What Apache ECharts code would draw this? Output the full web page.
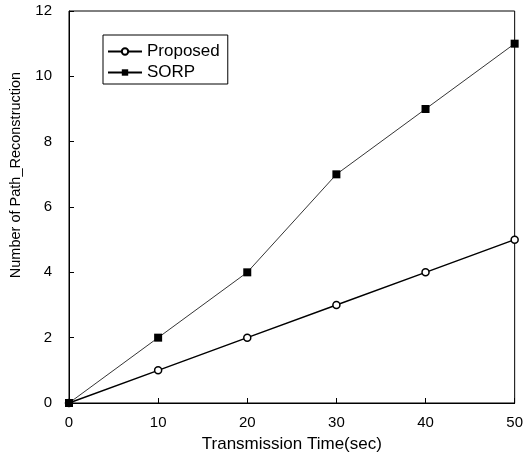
<!DOCTYPE html>
<html>
<head>
<meta charset="utf-8">
<script src="https://cdn.jsdelivr.net/npm/echarts@6/dist/echarts.min.js"></script>
<style>
  html, body { margin: 0; padding: 0; background: #fff; }
  #chart { width: 526px; height: 467px; }
</style>
</head>
<body>
<div id="chart"></div>
<script>
// data
const times = [0, 10, 20, 30, 40, 50];
const proposed = [0, 1, 2, 3, 4, 5];
const sorp = [0, 2, 4, 7, 9, 11];

const pairs = (ys) => times.map((t, i) => [t, ys[i]]);

const chart = echarts.init(document.getElementById('chart'));
const font = 'Liberation Sans, Arial, sans-serif';

chart.setOption({
    animation: false,
    backgroundColor: '#fff',
    grid: {
        left: 67, right: 7, top: 11, bottom: 64,
        show: true, borderColor: '#000', borderWidth: 1
    },
    legend: {
        orient: 'vertical',
        left: 103, top: 35,
        itemWidth: 34, itemHeight: 8, itemGap: 4,
        padding: [8, 8, 3, 4],
        borderColor: '#000', borderWidth: 1,
        textStyle: { fontFamily: font, fontSize: 17, color: '#000' },
        data: ['Proposed', 'SORP']
    },
    xAxis: {
        type: 'value',
        min: 0, max: 50, interval: 10,
        name: 'Transmission Time(sec)',
        nameLocation: 'middle',
        nameGap: 33,
        nameTextStyle: { fontFamily: font, fontSize: 17, color: '#000' },
        axisLine: { lineStyle: { color: '#000' } },
        axisTick: { inside: true, length: 5, lineStyle: { color: '#000' } },
        axisLabel: { fontFamily: font, fontSize: 15, color: '#000', margin: 12 },
        splitLine: { show: false }
    },
    yAxis: {
        type: 'value',
        min: 0, max: 12, interval: 2,
        name: 'Number of Path_Reconstruction',
        nameLocation: 'middle',
        nameGap: 46,
        nameTextStyle: { fontFamily: font, fontSize: 14.5, color: '#000', padding: [0, 0, 0, 64] },
        axisLine: { lineStyle: { color: '#000' } },
        axisTick: { inside: true, length: 5, lineStyle: { color: '#000' } },
        axisLabel: { fontFamily: font, fontSize: 15, color: '#000', margin: 17 },
        splitLine: { show: false }
    },
    series: [
        {
            name: 'Proposed',
            type: 'line',
            data: pairs(proposed),
            symbol: 'circle',
            symbolSize: 7,
            lineStyle: { color: '#000', width: 1.5 },
            itemStyle: { color: '#fff', borderColor: '#000', borderWidth: 1.5 }
        },
        {
            name: 'SORP',
            type: 'line',
            data: pairs(sorp),
            symbol: 'rect',
            symbolSize: 8,
            lineStyle: { color: '#000', width: 0.8 },
            itemStyle: { color: '#000' }
        }
    ]
});
</script>
</body>
</html>
